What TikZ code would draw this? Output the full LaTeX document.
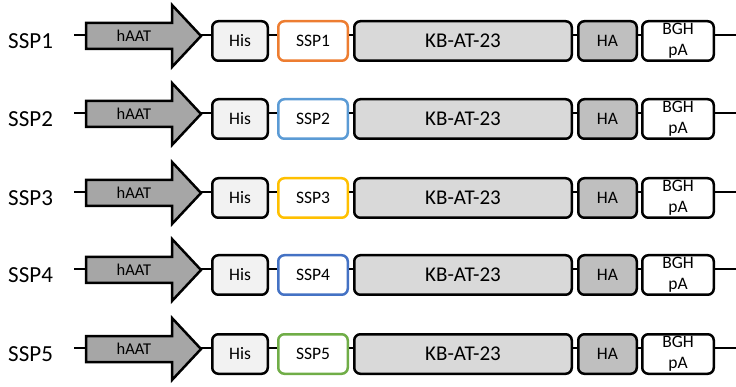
\documentclass[tikz,border=0pt]{standalone}
\usepackage{fontspec}
\setmainfont{Carlito}
\definecolor{arrowgray}{HTML}{A6A6A6}
\definecolor{hisgray}{HTML}{F2F2F2}
\definecolor{kbgray}{HTML}{D9D9D9}
\definecolor{hagray}{HTML}{BFBFBF}
\definecolor{sspa}{HTML}{ED7D31}
\definecolor{sspb}{HTML}{5B9BD5}
\definecolor{sspc}{HTML}{FFC000}
\definecolor{sspd}{HTML}{4472C4}
\definecolor{sspe}{HTML}{70AD47}
\begin{document}
\begin{tikzpicture}[x=1pt,y=-1pt,line width=2.5pt,
  box/.style={draw=black,rounded corners=6pt,minimum height=39.5pt,inner sep=0pt,
    font=\fontsize{17.5}{20}\selectfont},
  rowlabel/.style={anchor=west,inner sep=0pt,font=\fontsize{23}{26}\selectfont},
  promoter/.style={draw=black,fill=arrowgray,line join=miter},
  backbone/.style={draw=black,line width=2.5pt}]
\useasboundingbox (0,0) rectangle (736,387);
\foreach \i/\L/\col in {1/35/sspa,2/113/sspb,3/192/sspc,4/269/sspd,5/348/sspe}{
  \coordinate (s\i) at (74,\L);
  \coordinate (e\i) at (736,\L);
  \draw[backbone] (s\i) -- (e\i);
  \draw[promoter] (86,{\L+1-13}) -- (172,{\L+1-13}) -- (172,{\L+1-31}) -- (201,{\L+1})
     -- (172,{\L+1+31}) -- (172,{\L+1+13}) -- (86,{\L+1+13}) -- cycle;
  \node[inner sep=0pt,font=\fontsize{16.5}{18}\selectfont] (p\i) at (134,{\L+1}) {hAAT};
  \node[rowlabel] (l\i) at (7,{\L+6}) {SSP\i};
  \node[box,fill=hisgray,minimum width=55.5pt] (his\i) at (240,{\L+6}) {His};
  \node[box,draw=\col,fill=white,minimum width=69.5pt] (ssp\i) at (313,{\L+6}) {SSP\i};
  \node[box,fill=kbgray,minimum width=217.5pt,font=\fontsize{21}{24}\selectfont] (kb\i) at (463,{\L+6}) {KB-AT-23};
  \node[box,fill=hagray,minimum width=58.5pt] (ha\i) at (607.5,{\L+6}) {HA};
  \node[box,fill=white,minimum width=71.5pt,align=center,font=\fontsize{17.5}{21}\selectfont] (bgh\i) at (678,{\L+6}) {BGH\\pA};
}
\end{tikzpicture}
\end{document}
